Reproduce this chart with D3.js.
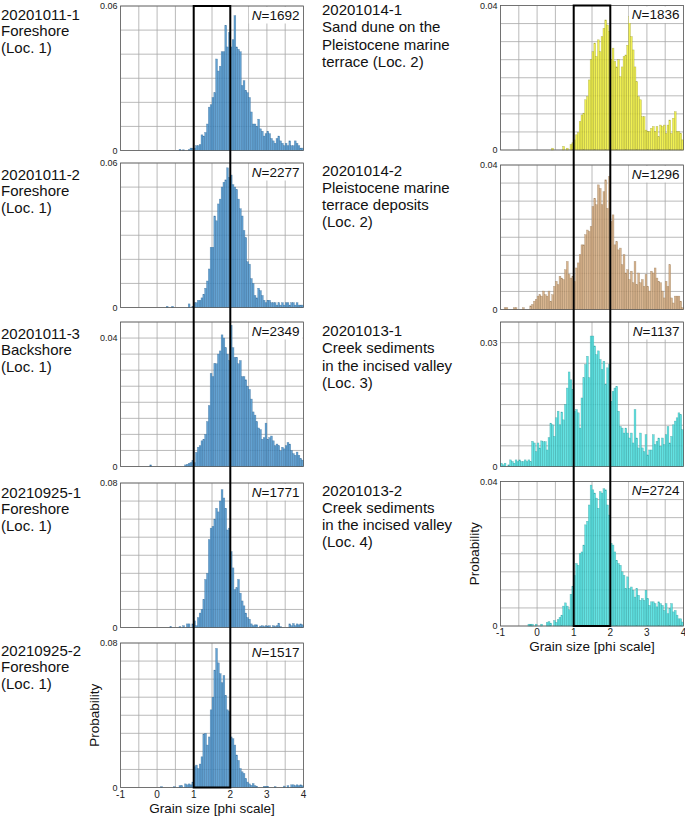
<!DOCTYPE html>
<html>
<head>
<meta charset="utf-8">
<script src="https://cdn.jsdelivr.net/npm/d3@7"></script>
<style>
  body { margin: 0; background: #fff; }
  text { font-family: "Liberation Sans", Arial, sans-serif; }
</style>
</head>
<body>
<script>
// bin left edges, 0.05 phi wide, from -1 to 4
var binWidth = 0.05;
var phiBins  = d3.range(100).map(function(i){ return -1 + i * binWidth; });
var xTicks   = [-1, 0, 1, 2, 3, 4];

var s20201011_1 = [
  0,0,0,0,0,0,0,0,0,0,
  0,0,0,0,0,0,0,0,0,0,
  0,0,0,0,0,0,0,0,0,0,
  0,0,0.0005,0,0.0003,0,0,0.0004,0.001,0.0008,
  0.001,0.002,0.002,0.0025,0.0065,0.006,0.0075,0.011,0.018,0.019,
  0.022,0.024,0.038,0.033,0.035,0.041,0.041,0.052,0.043,0.049,
  0.043,0.046,0.056,0.043,0.042,0.041,0.027,0.029,0.025,0.024,
  0.022,0.016,0.011,0.011,0.010,0.013,0.009,0.008,0.006,0.007,
  0.008,0.007,0.005,0.004,0.003,0.005,0.006,0.004,0.003,0.002,
  0.003,0.002,0.004,0.002,0.002,0.004,0.003,0.002,0.001,0.001
];
var s20201011_2 = [
  0,0,0,0,0,0,0,0,0,0,
  0,0,0,0,0,0,0,0,0,0,
  0,0,0,0,0,0.0005,0,0,0.0005,0,
  0,0,0,0,0,0,0,0.0015,0,0.0005,
  0.002,0.002,0.003,0.003,0.004,0.0055,0.008,0.011,0.016,0.025,
  0.025,0.038,0.036,0.043,0.045,0.050,0.052,0.053,0.058,0.054,
  0.055,0.051,0.050,0.049,0.045,0.041,0.038,0.032,0.029,0.019,
  0.018,0.012,0.010,0.005,0.004,0.008,0.007,0.005,0.003,0.002,
  0.003,0.003,0.002,0.002,0.002,0.001,0.002,0.001,0.002,0.001,
  0.002,0.002,0.001,0.002,0.002,0.001,0.002,0.001,0.001,0.001
];
var s20201011_3 = [
  0,0,0,0,0,0,0,0,0,0,
  0,0,0,0,0,0,0.0005,0,0,0,
  0,0,0,0,0,0,0,0,0,0,
  0,0,0,0,0,0.0005,0.0007,0.001,0.0012,0.0018,
  0.0012,0.0044,0.006,0.0065,0.008,0.0085,0.010,0.014,0.019,0.029,
  0.028,0.032,0.032,0.035,0.036,0.041,0.040,0.037,0.035,0.033,
  0.044,0.037,0.034,0.034,0.032,0.033,0.028,0.028,0.027,0.025,
  0.024,0.021,0.017,0.016,0.014,0.012,0.0115,0.0085,0.009,0.0135,
  0.0085,0.009,0.0095,0.008,0.0065,0.007,0.0065,0.0049,0.006,0.0055,
  0.0065,0.0075,0.007,0.005,0.004,0.0035,0.0045,0.0035,0.0025,0.002
];
var s20210925_1 = [
  0,0,0,0,0,0,0,0,0,0,
  0,0,0,0,0,0,0,0,0,0,
  0,0,0,0,0,0,0,0.0005,0,0,
  0,0,0.0005,0,0.001,0,0.002,0.002,0,0.002,
  0.0037,0.001,0.0055,0.008,0.010,0.0156,0.0266,0.030,0.0487,0.055,
  0.056,0.060,0.066,0.064,0.070,0.0763,0.0717,0.066,0.054,0.055,
  0.042,0.033,0.021,0.022,0.0266,0.019,0.0147,0.012,0.008,0.0055,
  0.0046,0.002,0.001,0.0015,0.0015,0,0.0008,0.001,0.0005,0.001,
  0.0008,0.001,0,0.001,0.0005,0.001,0.0024,0.0005,0,0,
  0,0,0.002,0.001,0.0022,0.001,0.002,0.0015,0.002,0.0015
];
var s20210925_2 = [
  0,0,0,0,0,0,0,0,0,0,
  0,0,0,0,0,0,0,0,0,0,
  0,0,0.0005,0,0,0,0,0,0,0.0005,
  0,0,0.001,0.001,0,0.002,0.0015,0.002,0.0015,0.003,
  0.0115,0.0124,0.0105,0.013,0.017,0.0296,0.030,0.0235,0.028,0.043,
  0.050,0.065,0.077,0.069,0.063,0.058,0.062,0.051,0.043,0.042,
  0.028,0.027,0.0235,0.018,0.015,0.0105,0.0087,0.0078,0.005,0.003,
  0.002,0.0012,0.0022,0.001,0.0007,0,0,0,0.0007,0.0007,
  0.0007,0,0,0,0.0005,0,0,0,0,0.0008,
  0,0.001,0,0.0015,0.0015,0.001,0.0015,0.001,0.0015,0.001
];
var s20201014_1 = [
  0,0,0,0,0,0,0,0,0,0,
  0,0,0,0,0,0,0,0,0,0,
  0,0,0,0,0,0,0,0,0.0005,0,
  0,0,0,0,0.001,0,0.0005,0,0.0015,0.002,
  0.0028,0.0042,0.0048,0.0079,0.0097,0.0102,0.0139,0.0148,0.0194,0.025,
  0.0272,0.0296,0.0259,0.0305,0.0272,0.0314,0.0337,0.036,0.0346,0.0328,
  0.025,0.0282,0.0245,0.023,0.025,0.0203,0.023,0.0259,0.0263,0.029,
  0.037,0.0314,0.0277,0.023,0.0189,0.0148,0.0139,0.0092,0.0092,0.0055,
  0.0051,0.0051,0.006,0.0065,0.0051,0.0065,0.0037,0.0069,0.0065,0.0069,
  0.0046,0.0069,0.0083,0.0046,0.0088,0.0106,0.0051,0.0051,0.0046,0.0028
];
var s20201014_2 = [
  0,0,0.0005,0.0005,0,0,0,0.0005,0.0005,0,
  0,0,0.0005,0,0,0,0.001,0.0014,0.0023,0.0028,
  0.0037,0.0041,0.0037,0.0051,0.0041,0.0037,0.0051,0.0023,0.0041,0.0064,
  0.0078,0.0069,0.0092,0.0087,0.0083,0.011,0.0133,0.0097,0.0087,0.0092,
  0.0078,0.0115,0.0129,0.0152,0.0179,0.0179,0.0207,0.022,0.0216,0.023,
  0.0285,0.0308,0.029,0.0345,0.0335,0.029,0.0326,0.0359,0.028,0.0368,
  0.0244,0.0262,0.0179,0.0188,0.0165,0.017,0.0124,0.0152,0.0101,0.011,
  0.0083,0.0106,0.0074,0.0133,0.0069,0.0101,0.0074,0.0083,0.0064,0.0097,
  0.0064,0.0051,0.0106,0.0101,0.0115,0.0087,0.0078,0.0074,0.0051,0.0032,
  0.0078,0.0064,0.0124,0.0032,0.0018,0.0037,0.0037,0.0037,0.0023,0.0005
];
var s20201013_1 = [
  0.0008,0.0004,0.0008,0,0.0004,0.0016,0.0012,0.0008,0.0016,0.0012,
  0.0016,0.0012,0.0012,0.0016,0.0012,0.0016,0.0012,0.0061,0.0057,0.0036,
  0.0057,0.0045,0.0062,0.006,0.006,0.004,0.007,0.0105,0.0101,0.0073,
  0.0118,0.0134,0.0101,0.0132,0.0113,0.015,0.019,0.0229,0.021,0.0186,
  0.0134,0.0138,0.013,0.0093,0.0166,0.0215,0.0247,0.0267,0.0215,0.0316,
  0.0316,0.0292,0.0271,0.028,0.0259,0.0235,0.0255,0.0199,0.0239,0.0247,
  0.0158,0.0182,0.019,0.0194,0.0134,0.0097,0.0093,0.0081,0.0093,0.0081,
  0.0069,0.0081,0.0057,0.0138,0.0069,0.0045,0.0081,0.0045,0.0036,0.0077,
  0.0028,0.004,0.004,0.0077,0.0053,0.0061,0.0069,0.0049,0.0069,0.0053,
  0.0077,0.0097,0.0057,0.0073,0.0101,0.011,0.0118,0.013,0.0126,0.0089
];
var s20201013_2 = [
  0,0,0,0,0,0,0,0,0,0,
  0,0,0,0,0,0.0005,0.0005,0.0005,0,0.0005,
  0,0,0.0005,0,0,0.001,0.0012,0.0008,0,0.0015,
  0.001,0.0018,0.0024,0.003,0.0055,0.0064,0.0055,0.0045,0.0088,0.011,
  0.014,0.0173,0.0168,0.02,0.0205,0.0224,0.028,0.029,0.0335,0.039,
  0.0377,0.0368,0.0354,0.0326,0.0372,0.0368,0.038,0.0377,0.0335,0.0307,
  0.0229,0.0224,0.0205,0.0182,0.0173,0.0168,0.015,0.014,0.0104,0.0136,
  0.0104,0.0108,0.0099,0.008,0.0104,0.0085,0.0071,0.0076,0.0071,0.0099,
  0.0076,0.0057,0.0067,0.0067,0.0062,0.0053,0.0067,0.0062,0.0057,0.0043,
  0.0062,0.0034,0.0048,0.0062,0.0039,0.0043,0.003,0.002,0.002,0.0011
];

var sampleIds  = ['20201011-1','20201011-2','20201011-3','20210925-1','20210925-2',
                  '20201014-1','20201014-2','20201013-1','20201013-2'];
var sampleDesc = [['Foreshore','(Loc. 1)'], ['Foreshore','(Loc. 1)'], ['Backshore','(Loc. 1)'],
                  ['Foreshore','(Loc. 1)'], ['Foreshore','(Loc. 1)'],
                  ['Sand dune on the','Pleistocene marine','terrace (Loc. 2)'],
                  ['Pleistocene marine','terrace deposits','(Loc. 2)'],
                  ['Creek sediments','in the incised valley','(Loc. 3)'],
                  ['Creek sediments','in the incised valley','(Loc. 4)']];
var sampleN    = [1692, 2277, 2349, 1771, 1517, 1836, 1296, 1137, 2724];
var yMaxes     = [0.06, 0.06, 0.045, 0.08, 0.08, 0.04, 0.04, 0.035, 0.04];
var yTopTicks  = [0.06, 0.06, 0.04, 0.08, 0.08, 0.04, 0.04, 0.03, 0.04];
var series     = [s20201011_1, s20201011_2, s20201011_3, s20210925_1, s20210925_2,
                  s20201014_1, s20201014_2, s20201013_1, s20201013_2];

// layout
var W = 685, H = 816, PH = 144.5;
var cols = [{x0: 120.5, x1: 303.5, textX: 1, lineH: 16.5},
            {x0: 500.5, x1: 683.5, textX: 322, lineH: 17.3}];
var panelCol  = [0,0,0,0,0,1,1,1,1];
var panelTop  = [6, 163, 322, 483, 643, 5.5, 165, 322, 481.5];
var labelY    = [19.5, 179.5, 338.5, 497.5, 655.5, 15, 175.5, 336, 495.5];
var gridStep  = [0.01, 0.01, 0.005, 0.01, 0.01, 0.005, 0.005, 0.005, 0.005];
var fills     = ['#4d95cc','#4d95cc','#4d95cc','#4d95cc','#4d95cc','#eeee3c','#d1aa7f','#4ddede','#4ddede'];
var strokes   = ['#2b5f8c','#2b5f8c','#2b5f8c','#2b5f8c','#2b5f8c','#8c8c22','#8a6a48','#239090','#239090'];

var svg = d3.select('body').append('svg')
            .attr('width', W)
            .attr('height', H);

series.forEach(function(vals, k){
  var col = cols[panelCol[k]];
  var top = panelTop[k], bot = top + PH;
  var x = d3.scaleLinear().domain([-1, 4]).range([col.x0, col.x1]);
  var y = d3.scaleLinear().domain([0, yMaxes[k]]).range([bot, top]);
  var g = svg.append('g');

  // grid
  g.selectAll('line.v').data(d3.range(-1, 4.001, 0.5)).enter().append('line')
   .attr('x1', function(d){ return x(d); }).attr('x2', function(d){ return x(d); })
   .attr('y1', top).attr('y2', bot)
   .attr('stroke', '#a8a8a8').attr('stroke-width', 0.8);
  g.selectAll('line.h').data(d3.range(0, yMaxes[k] + 1e-9, gridStep[k])).enter().append('line')
   .attr('x1', col.x0).attr('x2', col.x1)
   .attr('y1', function(d){ return y(d); }).attr('y2', function(d){ return y(d); })
   .attr('stroke', '#a8a8a8').attr('stroke-width', 0.8);

  // bars
  g.selectAll('rect.bar').data(vals).enter().append('rect')
   .attr('x', function(d, i){ return x(phiBins[i]); })
   .attr('width', x(binWidth) - x(0))
   .attr('y', function(d){ return y(d); })
   .attr('height', function(d){ return bot - y(d); })
   .attr('fill', fills[k]).attr('fill-opacity', 0.88)
   .attr('stroke', d3.color(strokes[k]).copy({opacity: 0.6}))
   .attr('stroke-width', function(d){ return d > 0 ? 0.45 : 0; });

  // frame
  g.append('rect')
   .attr('x', col.x0).attr('y', top)
   .attr('width', col.x1 - col.x0).attr('height', PH)
   .attr('fill', 'none').attr('stroke', '#555').attr('stroke-width', 0.7);

  // y tick labels
  [0, yTopTicks[k]].forEach(function(t){
    g.append('text')
     .attr('x', col.x0 - 3).attr('y', y(t))
     .attr('dy', '0.35em').attr('text-anchor', 'end')
     .attr('font-size', 9).attr('fill', '#222')
     .text(t === 0 ? '0' : String(t));
  });

  // N label
  var nt = g.append('text')
   .attr('x', col.x1 - 4).attr('y', top + 13.5)
   .attr('text-anchor', 'end').attr('font-size', 13.5).attr('fill', '#111');
  nt.append('tspan').attr('font-style', 'italic').text('N');
  nt.append('tspan').text('=' + sampleN[k]);
  var bb = nt.node().getBBox();
  g.insert('rect', 'text')
   .attr('x', bb.x - 3).attr('y', top + 1)
   .attr('width', col.x1 - 1 - (bb.x - 3)).attr('height', 16.5)
   .attr('fill', '#fff');

  // sample label
  var lab = svg.append('text')
   .attr('x', col.textX).attr('y', labelY[k])
   .attr('font-size', 15).attr('fill', '#111');
  [sampleIds[k]].concat(sampleDesc[k]).forEach(function(s, j){
    lab.append('tspan').attr('x', col.textX).attr('dy', j === 0 ? 0 : col.lineH).text(s);
  });
});

// x axes on bottom panels + the 1-2 phi boxes
[4, 8].forEach(function(k){
  var col = cols[panelCol[k]];
  var bot = panelTop[k] + PH;
  var x = d3.scaleLinear().domain([-1, 4]).range([col.x0, col.x1]);
  var top0 = panelTop[panelCol[k] === 0 ? 0 : 5];

  svg.append('g').selectAll('text').data(xTicks).enter().append('text')
     .attr('x', function(d){ return x(d); }).attr('y', bot + 10)
     .attr('text-anchor', 'middle').attr('font-size', 10).attr('fill', '#222')
     .text(function(d){ return d; });

  svg.append('text')
     .attr('x', (col.x0 + col.x1) / 2).attr('y', bot + 25)
     .attr('text-anchor', 'middle').attr('font-size', 13.5).attr('fill', '#111')
     .text('Grain size [phi scale]');

  svg.append('text')
     .attr('transform', 'translate(' + (col.x0 - 21.5) + ',' + (bot - PH / 2) + ') rotate(-90)')
     .attr('text-anchor', 'middle').attr('font-size', 13.5).attr('fill', '#111')
     .text('Probability');

  svg.append('rect')
     .attr('x', x(1)).attr('y', top0)
     .attr('width', x(2) - x(1)).attr('height', bot - top0)
     .attr('fill', 'none').attr('stroke', '#000').attr('stroke-width', 2);
});
</script>
</body>
</html>
